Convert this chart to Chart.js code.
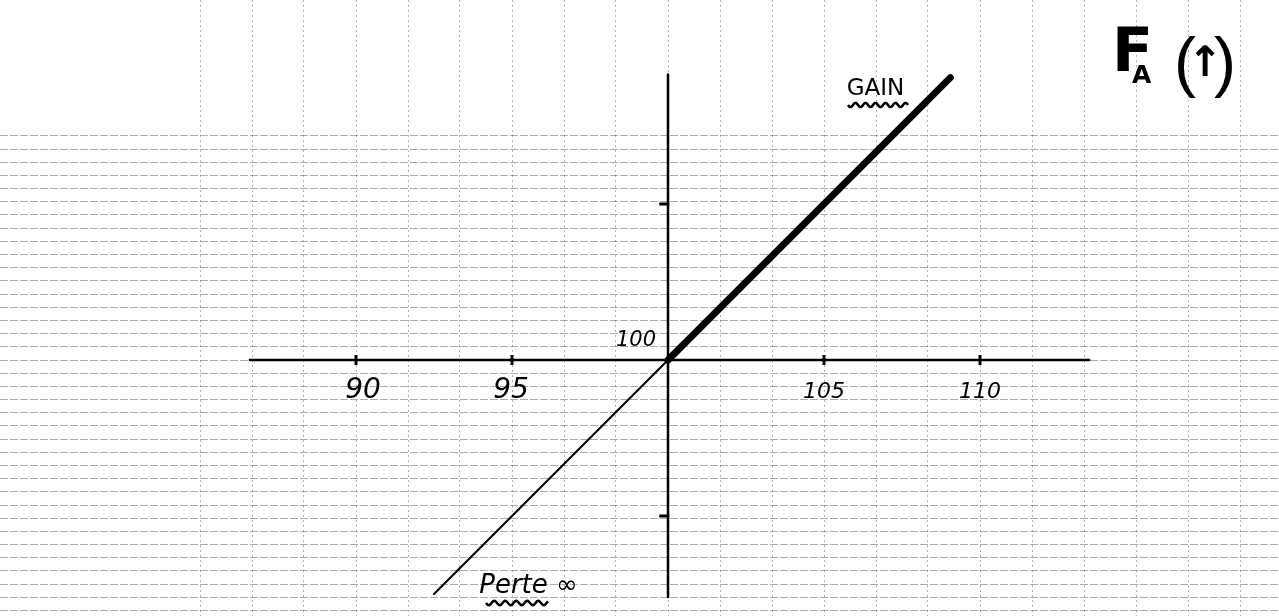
<!DOCTYPE html>
<html>
<head>
<meta charset="utf-8">
<style>
  html, body { margin: 0; padding: 0; background: #ffffff; }
  #wrap { width: 1279px; height: 616px; position: relative; }
  canvas { display: block; }
</style>
<script src="https://cdn.jsdelivr.net/npm/chart.js@4.4.1/dist/chart.umd.min.js"></script>
</head>
<body>
<div id="wrap"><canvas id="c" width="1279" height="616"></canvas></div>
<script>
// ---- data (underlying price at maturity vs. P&L of a long forward, strike 100) ----
const strike = 100;
const gainX = [100, 109.05];
const gainY = [0, 9.05];
const lossX = [100, 92.5];
const lossY = [0, -7.5];
const axisX = [86.6, 113.5];
const axisY = [9.15, -7.6];
const xTickValues = [90, 95, 105, 110];
const xTickLabels = ["90", "95", "105", "110"];
const yTickValues = [5, -5];
const originLabel = "100";
const gainLabel = "GAIN";
const lossLabel = "Perte ∞";
const titleMain = "F";
const titleSub = "A";
const titleArrow = "↑";

// graph-paper spacing (in data units)
const paperStepX = 5 / 3;
const paperStepY = 0.4225;

const pts = (xs, ys) => xs.map((x, i) => ({ x: x, y: ys[i] }));

const textPlugin = {
  id: 'handText',
  afterDatasetsDraw(chart) {
    const ctx = chart.ctx;
    const xs = chart.scales.x, ys = chart.scales.y;
    const px = v => xs.getPixelForValue(v);
    const py = v => ys.getPixelForValue(v);
    ctx.save();
    ctx.fillStyle = '#000';
    ctx.textAlign = 'center';
    ctx.textBaseline = 'alphabetic';
    // x tick labels
    const sizes = [28, 28, 22, 22];
    const dx = [7, -1, 0, 0];
    xTickValues.forEach((v, i) => {
      ctx.font = 'italic ' + sizes[i] + 'px "DejaVu Sans"';
      ctx.fillText(xTickLabels[i], px(v) + dx[i], py(0) + 38);
    });
    // origin label
    ctx.font = 'italic 21px "DejaVu Sans"';
    ctx.fillText(originLabel, px(strike) - 32, py(0) - 14);

    const wavy = (x0, x1, y, amp, period) => {
      ctx.beginPath();
      for (let x = x0; x <= x1; x += 1) {
        const yy = y + amp * Math.sin((x - x0) / period * 2 * Math.PI);
        if (x === x0) ctx.moveTo(x, yy); else ctx.lineTo(x, yy);
      }
      ctx.lineWidth = 2.5;
      ctx.strokeStyle = '#000';
      ctx.stroke();
    };
    // GAIN
    ctx.font = '23px "DejaVu Sans"';
    ctx.fillText(gainLabel, px(106.65), py(8.45) - 1);
    wavy(848, 908, 105, 2.2, 10);
    // Perte ∞
    ctx.font = 'italic 26px "DejaVu Sans"';
    ctx.textAlign = 'left';
    ctx.fillText(lossLabel, px(93.95), py(-7.48));
    wavy(486, 548, 603, 2.2, 11);

    // title F_A (↑)
    ctx.textAlign = 'left';
    ctx.font = 'bold 60px "DejaVu Sans"';
    ctx.fillText(titleMain, 1112, 71);
    ctx.font = 'bold 25px "DejaVu Sans"';
    ctx.fillText(titleSub, 1132, 83);
    ctx.font = '66px "Liberation Sans"';
    ctx.fillText('(', 1174, 84);
    ctx.fillText(')', 1214, 84);
    ctx.font = 'bold 42px "DejaVu Sans"';
    ctx.textAlign = 'center';
    ctx.fillText(titleArrow, 1205, 76);
    ctx.restore();
  }
};

const lineDs = (data, width) => ({
  type: 'line',
  data: data,
  borderColor: '#000',
  borderWidth: width,
  pointRadius: 0,
  borderCapStyle: 'round',
  fill: false,
  tension: 0
});

new Chart(document.getElementById('c'), {
  type: 'scatter',
  data: {
    datasets: [
      lineDs(pts(axisX, [0, 0]), 2.5),
      lineDs(pts([strike, strike], axisY), 2.5),
      lineDs(pts(lossX, lossY), 2.2),
      lineDs(pts(gainX, gainY), 7),
      {
        type: 'scatter',
        data: xTickValues.map(v => ({ x: v, y: 0 })),
        pointStyle: 'line', rotation: 90, pointRadius: 5,
        borderColor: '#000', borderWidth: 3, backgroundColor: '#000'
      },
      {
        type: 'scatter',
        data: yTickValues.map(v => ({ x: strike - 0.12, y: v })),
        pointStyle: 'line', rotation: 0, pointRadius: 5,
        borderColor: '#000', borderWidth: 3, backgroundColor: '#000'
      }
    ]
  },
  options: {
    responsive: false,
    animation: false,
    devicePixelRatio: 1,
    layout: { padding: 0, autoPadding: false },
    plugins: { legend: { display: false }, tooltip: { enabled: false } },
    scales: {
      x: {
        type: 'linear',
        min: 100 - 668 / 31.2,
        max: 100 + 611 / 31.2,
        afterBuildTicks(scale) {
          const t = [];
          for (let k = -9; k <= 11; k++) t.push({ value: strike + k * paperStepX });
          scale.ticks = t;
        },
        ticks: { display: false },
        border: { display: false, dash: [2, 3] },
        grid: { color: 'rgba(100,100,100,0.5)', lineWidth: 1, drawTicks: false }
      },
      y: {
        type: 'linear',
        min: -256 / 31.2,
        max: 360 / 31.2,
        afterBuildTicks(scale) {
          const t = [];
          for (let k = -19; k <= 17; k++) t.push({ value: k * paperStepY });
          scale.ticks = t;
        },
        ticks: { display: false },
        border: { display: false, dash: [8, 2] },
        grid: { color: 'rgba(90,90,90,0.5)', lineWidth: 1, drawTicks: false }
      }
    }
  },
  plugins: [textPlugin]
});
</script>
</body>
</html>
